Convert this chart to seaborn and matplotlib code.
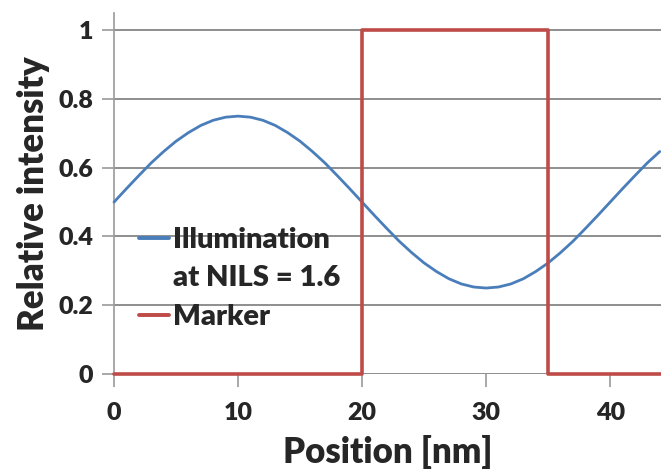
import matplotlib
matplotlib.use("Agg")
import matplotlib.pyplot as plt
from matplotlib.lines import Line2D
import seaborn as sns
import pandas as pd

# Data
position = list(range(0, 45))
illumination = [0.500, 0.539, 0.577, 0.614, 0.647, 0.677, 0.702, 0.723, 0.738, 0.747,
                0.750, 0.747, 0.738, 0.723, 0.702, 0.677, 0.647, 0.614, 0.577, 0.539,
                0.500, 0.461, 0.423, 0.386, 0.353, 0.323, 0.298, 0.277, 0.262, 0.253,
                0.250, 0.253, 0.262, 0.277, 0.298, 0.323, 0.353, 0.386, 0.423, 0.461,
                0.500, 0.539, 0.577, 0.614, 0.647]
marker_pos = [0, 20, 20, 35, 35, 44.1]
marker_val = [0, 0, 1, 1, 0, 0]
xticks = [0, 10, 20, 30, 40]
yticks = [0, 0.2, 0.4, 0.6, 0.8, 1]
ytick_labels = ["0", "0.2", "0.4", "0.6", "0.8", "1"]
legend_labels = ["Illumination", "at NILS = 1.6", "Marker"]

sns.set_style("white")
plt.rcParams["font.family"] = ["Lato", "DejaVu Sans"]

fig = plt.figure(figsize=(6.61, 4.70), dpi=100)
ax = fig.add_axes([114 / 661, 96 / 470, 1 - 114 / 661, (374 - 13) / 470])

df_ill = pd.DataFrame({"x": position, "y": illumination})
df_mk = pd.DataFrame({"x": marker_pos, "y": marker_val})

sns.lineplot(data=df_ill, x="x", y="y", ax=ax, color="#4A7EBB", lw=2.0, zorder=3)
sns.lineplot(data=df_mk, x="x", y="y", ax=ax, color="#BE4B48", lw=2.6,
             estimator=None, sort=False, zorder=4)
for ln in ax.get_lines():
    ln.set_clip_on(False)

ax.set_xlim(0, 44.1)
ax.set_ylim(0, 1.05)
ax.set_xticks(xticks)
ax.set_yticks(yticks)
ax.set_yticklabels(ytick_labels)
ax.yaxis.grid(True, color="#868686", lw=1.3)
ax.set_axisbelow(True)

for s in ["top", "right", "bottom"]:
    ax.spines[s].set_visible(False)
ax.spines["left"].set_color("#9a9a9a")
ax.spines["left"].set_linewidth(1.2)

ax.tick_params(axis="both", direction="out", length=9, width=1.2, color="#9a9a9a",
               labelsize=18, bottom=True, left=True)
ax.tick_params(axis="y", pad=6)
ax.tick_params(axis="x", pad=11)
for lab in ax.get_xticklabels() + ax.get_yticklabels():
    lab.set_fontweight("heavy")

ax.set_xlabel("Position [nm]", fontsize=25, fontweight="heavy", labelpad=8)
ax.set_ylabel("Relative intensity", fontsize=25, fontweight="heavy", labelpad=6)

handles = [Line2D([], [], color="#4A7EBB", lw=2.8),
           Line2D([], [], color="none", lw=0),
           Line2D([], [], color="#BE4B48", lw=2.8)]
leg = ax.legend(handles, legend_labels, loc="upper left", bbox_to_anchor=(0.024, 0.44),
                frameon=False, fontsize=21, handlelength=1.05, handletextpad=0.12,
                labelspacing=0.43, borderaxespad=0)
for t in leg.get_texts():
    t.set_fontweight("heavy")

fig.savefig("out.png", dpi=100)
